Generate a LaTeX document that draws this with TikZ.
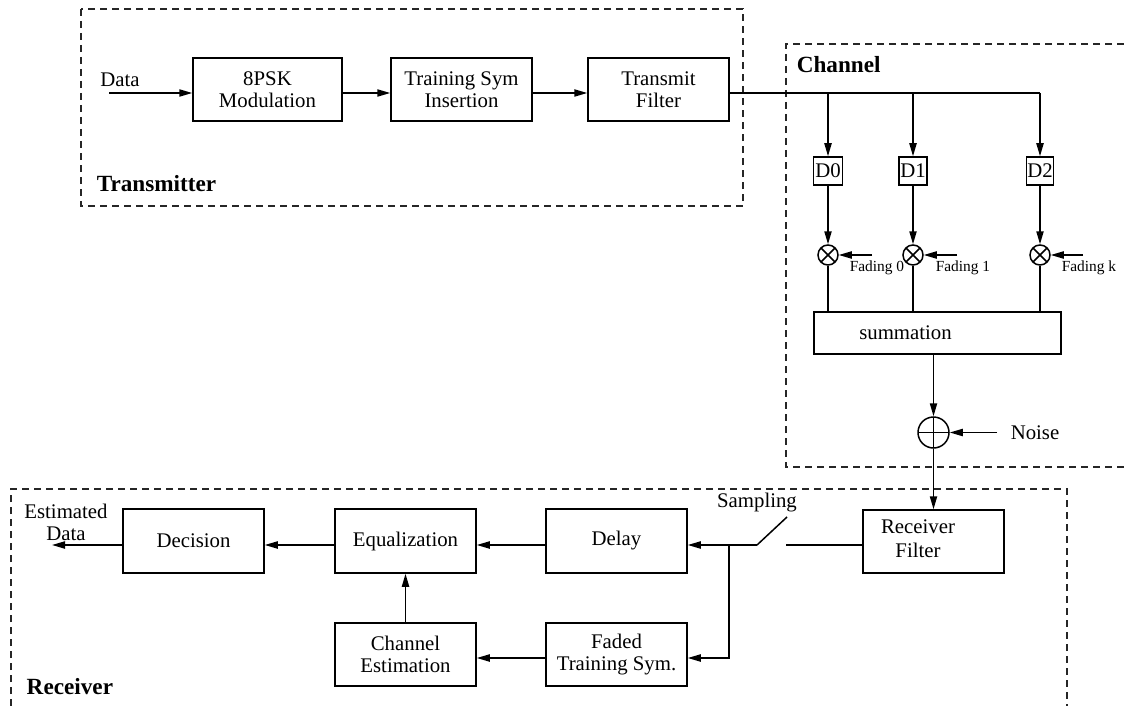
\documentclass[tikz,border=0pt]{standalone}
\usepackage{fontspec}
\setmainfont{Liberation Serif}
\usetikzlibrary{arrows.meta}
\begin{document}
\begin{tikzpicture}[x=0.5pt,y=-0.5pt,
  line width=0.75pt,
  every node/.style={font=\fontsize{10.4}{11}\selectfont, inner sep=0pt},
  bx/.style 2 args={draw, minimum width=#1*0.5pt, minimum height=#2*0.5pt},
  arr/.style={-{Triangle[length=6.5pt,width=3.6pt]}},
  grp/.style={draw=black!85, line width=0.55pt, dash pattern=on 3.5pt off 2.5pt},
  ttl/.style={font=\fontsize{11.6}{13}\selectfont\bfseries, anchor=west},
  sml/.style={font=\fontsize{7.7}{9}\selectfont, anchor=west},
  mult/.style={circle, draw, minimum size=10pt, path picture={
     \draw (path picture bounding box.north west) -- (path picture bounding box.south east)
           (path picture bounding box.north east) -- (path picture bounding box.south west);}},
  plus/.style={circle, draw, minimum size=15.5pt, path picture={
     \draw (path picture bounding box.north) -- (path picture bounding box.south)
           (path picture bounding box.west) -- (path picture bounding box.east);}}
]
\useasboundingbox (0,0) rectangle (1124,706);

% group frames
\draw[grp] (81,9) rectangle (743,206);
\draw[grp] (1124,44) -- (786,44) -- (786,467) -- (1124,467);
\draw[grp] (11,706) -- (11,489) -- (1067,489) -- (1067,706);
\node[ttl] (ltx) at (96,184) {Transmitter};
\node[ttl] (lch) at (796,65) {Channel};
\node[ttl] (lrx) at (26,687) {Receiver};

% transmitter
\node (data) at (120,80) {Data};
\coordinate (din) at (109,93);
\node[bx={149}{63}, align=center] (psk) at (267.5,89.5) {8PSK\\Modulation};
\node[bx={141}{63}, align=center] (tsi) at (461.5,89.5) {Training Sym\\Insertion};
\node[bx={141}{63}, align=center] (txf) at (658.5,89.5) {Transmit\\Filter};
\draw[arr] (din) -- (psk.west |- din);
\draw[arr] (psk.east |- din) -- (tsi.west |- din);
\draw[arr] (tsi.east |- din) -- (txf.west |- din);

% channel
\node[bx={29}{28}] (d0) at (828,171) {D0};
\node[bx={28}{28}] (d1) at (913,171) {D1};
\node[bx={27}{28}] (d2) at (1040,171) {D2};
\coordinate (j2) at (1040,93);
\draw (txf.east |- din) -- (j2);
\draw[arr] (d0.north |- din) -- (d0.north);
\draw[arr] (d1.north |- din) -- (d1.north);
\draw[arr] (j2) -- (d2.north);

\node[mult] (m0) at (828,255) {};
\node[mult] (m1) at (913,255) {};
\node[mult] (m2) at (1040,255) {};
\draw[arr] (d0) -- (m0);
\draw[arr] (d1) -- (m1);
\draw[arr] (d2) -- (m2);
\coordinate (f0) at (872,255);
\coordinate (f1) at (957,255);
\coordinate (f2) at (1083,255);
\draw[arr] (f0) -- (m0);
\draw[arr] (f1) -- (m1);
\draw[arr] (f2) -- (m2);
\node[sml] (lf0) at (849,268) {Fading 0};
\node[sml] (lf1) at (935,268) {Fading 1};
\node[sml] (lf2) at (1061,268) {Fading k};

\node[bx={247}{42}] (sum) at (937.5,333) {summation\rule{32pt}{0pt}};
\draw (m0) -- (m0 |- sum.north);
\draw (m1) -- (m1 |- sum.north);
\draw (m2) -- (m2 |- sum.north);

\node[plus] (add) at (933.5,432.5) {};
\draw[arr] (sum.south -| add) -- (add);
\coordinate (nz) at (997,432.5);
\draw[arr] (nz) -- (add);
\node[anchor=west] (lnz) at (1010,432.5) {Noise};

% receiver
\node[bx={141}{63}] (rxf) at (933.5,541.5) {\begin{tabular}{@{}c@{}}Receiver\\[1pt]Filter\end{tabular}\rule{15.5pt}{0pt}};
\draw[arr] (add) -- (add |- rxf.north);

\node[bx={141}{64}] (dec) at (193.5,541) {Decision};
\node[bx={141}{64}] (eq) at (405.5,541) {Equalization};
\node[bx={141}{64}] (del) at (616.5,541) {Delay};
\node[bx={141}{63}, align=center] (ce) at (405.5,654.5) {Channel\\Estimation};
\node[bx={141}{63}, align=center] (fts) at (616.5,654.5) {Faded\\Training Sym.};

\coordinate (sw1) at (786,545);
\coordinate (sw2) at (787,517);
\coordinate (sw3) at (757,545);
\coordinate (jn) at (729,545);
\coordinate (jb) at (729,658);
\draw (rxf.west |- sw1) -- (sw1);
\draw (sw2) -- (sw3);
\draw[arr] (sw3) -- (del.east |- sw3);
\draw[arr] (jn) -- (jb) -- (fts.east |- jb);
\node (lsm) at (757,503) {Sampling};

\draw[arr] (del.west |- sw3) -- (eq.east |- sw3);
\draw[arr] (eq.west |- sw3) -- (dec.east |- sw3);
\coordinate (out) at (52,545);
\draw[arr] (dec.west |- out) -- (out);
\node[align=center] (led) at (66,522) {Estimated\\Data};
\draw[arr] (fts.west |- jb) -- (ce.east |- jb);
\draw[arr] (ce) -- (eq);
\end{tikzpicture}
\end{document}
